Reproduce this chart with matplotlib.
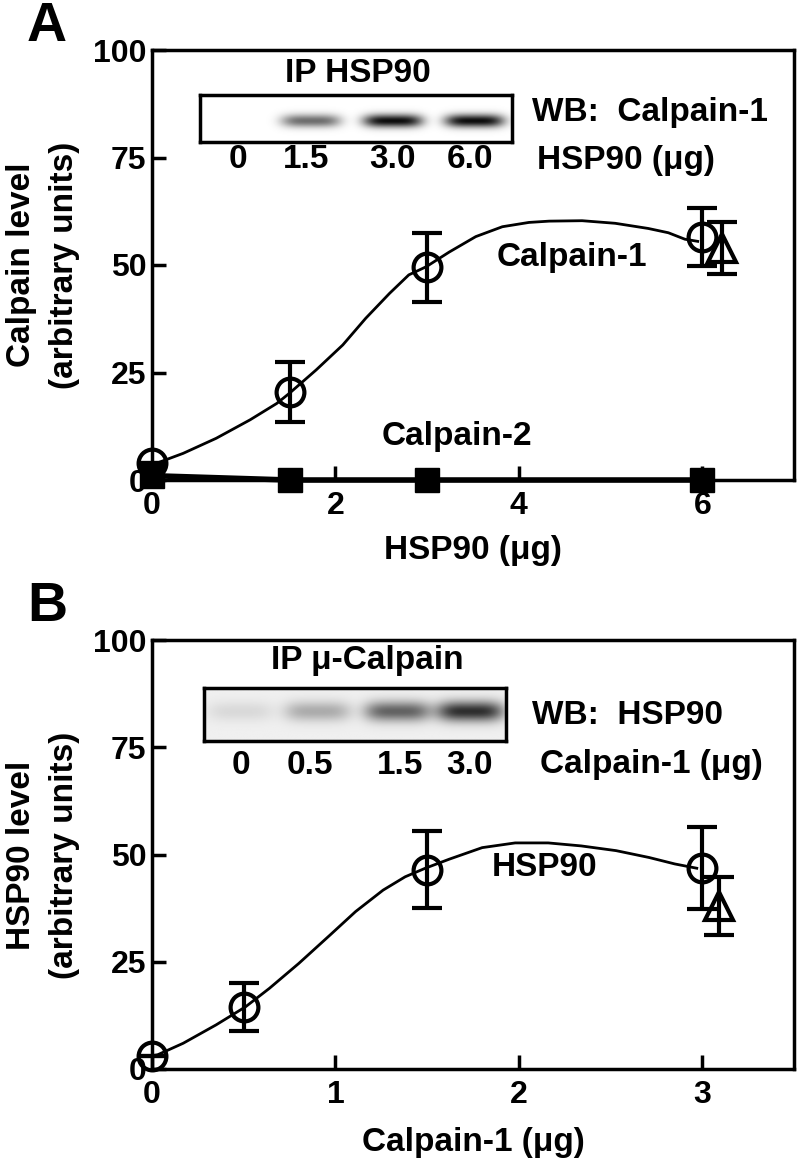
import numpy as np
import matplotlib
matplotlib.use('agg')
import matplotlib.pyplot as plt

plt.rcParams['font.family'] = ['Liberation Sans', 'DejaVu Sans']
plt.rcParams['font.weight'] = 'bold'

# panel A data: calpain bound to HSP90
hsp_dose = [0, 1.5, 3, 6]
cal1_mean = [4, 20.5, 49.5, 56.5]
cal1_err = [0, 7, 8, 6.7]
cal1_tri_x, cal1_tri_y, cal1_tri_err = 6.21, 54, 6
cal2_mean = [1, 0, 0, 0]
curve_a_x = [0, 0.05, 0.34, 0.70, 1.07, 1.36, 1.5, 1.79, 2.08, 2.33, 2.59, 2.80, 2.99,
             3.24, 3.53, 3.82, 4.11, 4.33, 4.69, 5.05, 5.41, 5.63, 5.81, 5.95]
curve_a_y = [3.6, 3.9, 6.2, 9.7, 14, 17.8, 20.2, 25.6, 31.4, 37.6, 43.4, 47.7, 49.6,
             53.0, 56.6, 58.9, 59.9, 60.2, 60.3, 59.7, 58.5, 57.5, 56.0, 55.5]
blot_a_lanes = ['0', '1.5', '3.0', '6.0']
blot_a_signal = [0.0, 0.6, 1.0, 1.0]

# panel B data: HSP90 bound to calpain-1
cal_dose = [0, 0.5, 1.5, 3]
hsp_mean = [3, 14.5, 46.5, 46.8]
hsp_err = [0, 5.6, 9, 9.6]
hsp_tri_x, hsp_tri_y, hsp_tri_err = 3.09, 38, 6.8
curve_b_x = [0, 0.03, 0.17, 0.35, 0.51, 0.64, 0.80, 0.97, 1.11, 1.26, 1.38, 1.49, 1.62,
             1.80, 1.98, 2.16, 2.34, 2.53, 2.71, 2.85, 2.97]
curve_b_y = [3.1, 3.3, 6, 10.3, 14.5, 18.8, 24.6, 31.2, 36.7, 41.7, 44.8, 46.8, 48.9,
             51.6, 52.7, 52.7, 52, 50.9, 49.3, 47.8, 46.8]
blot_b_lanes = ['0', '0.5', '1.5', '3.0']
blot_b_signal = [0.1, 0.3, 0.62, 0.85]

W, H = 800, 1169
fig = plt.figure(figsize=(W / 100, H / 100), dpi=100)
FS = 24


def px(x, y):
    return x / W, 1 - y / H


def style_axes(ax):
    for s in ax.spines.values():
        s.set_linewidth(2.5)
    ax.tick_params(direction='in', length=10, width=2.5, labelsize=23)
    ax.tick_params(axis='y', pad=4)
    ax.tick_params(axis='x', pad=8)


def blot(rect, lanes_x, signal, bg, wx, wy, yc):
    bx = fig.add_axes(rect)
    xx, yy = np.meshgrid(np.linspace(0, 1, 400), np.linspace(0, 1, 80))
    img = np.zeros_like(xx)
    for cx, s in zip(lanes_x, signal):
        img += s * np.exp(-((xx - cx) / wx) ** 4 - ((yy - yc) / wy) ** 2)
    img = np.clip(img, 0, 1)
    bx.imshow(1 - bg - (1 - bg) * img * 0.95, cmap='gray', vmin=0, vmax=1,
              aspect='auto', extent=(0, 1, 1, 0))
    bx.set_xticks([])
    bx.set_yticks([])
    for s in bx.spines.values():
        s.set_linewidth(2.5)
    return bx


mk = dict(ms=20, mew=3, mfc='none', mec='black', color='black')
eb = dict(fmt='none', ecolor='black', elinewidth=3, capsize=11, capthick=3)

# ---------------- panel A
axA = fig.add_axes([152 / W, 1 - 480 / H, 642 / W, 430 / H])
axA.plot(curve_a_x, curve_a_y, color='black', lw=2, zorder=2)
axA.errorbar(hsp_dose, cal1_mean, yerr=cal1_err, zorder=3, clip_on=False, **eb)
axA.plot(hsp_dose, cal1_mean, 'o', zorder=4, clip_on=False, **mk)
axA.errorbar([cal1_tri_x], [cal1_tri_y], yerr=[cal1_tri_err], zorder=3, **eb)
axA.plot([cal1_tri_x], [cal1_tri_y], '^', zorder=4, **mk)
axA.plot(hsp_dose, cal2_mean, 's-', color='black', lw=4, ms=17, zorder=5, clip_on=False)
axA.set_xlim(0, 7)
axA.set_ylim(0, 100)
axA.set_xticks([0, 2, 4, 6])
axA.set_yticks([0, 25, 50, 75, 100])
style_axes(axA)
axA.text(4.58, 51.8, 'Calpain-1', fontsize=FS, ha='center', va='center')
axA.text(3.32, 10, 'Calpain-2', fontsize=FS, ha='center', va='center')
fig.text(*px(473, 550), 'HSP90 (μg)', fontsize=FS, ha='center', va='center')
fig.text(*px(22, 265), 'Calpain level', fontsize=FS, rotation=90, ha='center', va='center')
fig.text(*px(64, 265), '(arbitrary units)', fontsize=FS, rotation=90, ha='center', va='center')
fig.text(*px(47, 27), 'A', fontsize=40, ha='center', va='center')

x0, y0 = px(200, 142)
blot([x0, y0, 312 / W, 47 / H], [0.12, 0.356, 0.619, 0.881], blot_a_signal,
     0.0, 0.095, 0.14, 0.55)
fig.text(*px(358, 74), 'IP HSP90', fontsize=FS, ha='center', va='center')
fig.text(*px(532, 113), 'WB:  Calpain-1', fontsize=FS, ha='left', va='center')
fig.text(*px(537, 160), 'HSP90 (μg)', fontsize=FS, ha='left', va='center')
for lx, lab in zip([238, 306, 392, 470], blot_a_lanes):
    fig.text(*px(lx, 160), lab, fontsize=FS, ha='center', va='center')

# ---------------- panel B
axB = fig.add_axes([152 / W, 1 - 1069 / H, 642 / W, 429 / H])
axB.plot(curve_b_x, curve_b_y, color='black', lw=2, zorder=2)
axB.errorbar(cal_dose, hsp_mean, yerr=hsp_err, zorder=3, clip_on=False, **eb)
axB.plot(cal_dose, hsp_mean, 'o', zorder=4, clip_on=False, **mk)
axB.errorbar([hsp_tri_x], [hsp_tri_y], yerr=[hsp_tri_err], zorder=3, **eb)
axB.plot([hsp_tri_x], [hsp_tri_y], '^', zorder=4, **mk)
axB.set_xlim(0, 3.5)
axB.set_ylim(0, 100)
axB.set_xticks([0, 1, 2, 3])
axB.set_yticks([0, 25, 50, 75, 100])
style_axes(axB)
axB.text(2.14, 47, 'HSP90', fontsize=FS, ha='center', va='center')
fig.text(*px(473, 1142), 'Calpain-1 (μg)', fontsize=FS, ha='center', va='center')
fig.text(*px(22, 855), 'HSP90 level', fontsize=FS, rotation=90, ha='center', va='center')
fig.text(*px(64, 855), '(arbitrary units)', fontsize=FS, rotation=90, ha='center', va='center')
fig.text(*px(47, 607), 'B', fontsize=40, ha='center', va='center')

x0, y0 = px(204, 741)
blot([x0, y0, 302 / W, 53 / H], [0.12, 0.375, 0.64, 0.88], blot_b_signal,
     0.06, 0.11, 0.19, 0.45)
fig.text(*px(367, 661), 'IP μ-Calpain', fontsize=FS, ha='center', va='center')
fig.text(*px(532, 716), 'WB:  HSP90', fontsize=FS, ha='left', va='center')
fig.text(*px(540, 765), 'Calpain-1 (μg)', fontsize=FS, ha='left', va='center')
for lx, lab in zip([241, 310, 400, 469], blot_b_lanes):
    fig.text(*px(lx, 765), lab, fontsize=FS, ha='center', va='center')

plt.savefig('out.png', dpi=100)
